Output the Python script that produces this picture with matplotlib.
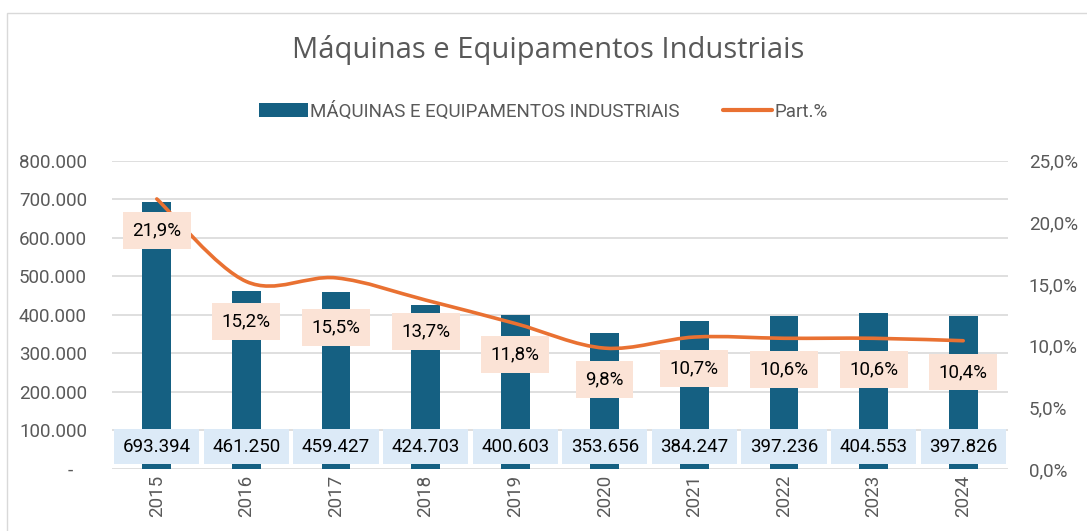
import matplotlib
matplotlib.use('Agg')
import matplotlib.pyplot as plt
from matplotlib.path import Path
from matplotlib.patches import PathPatch, Patch, Rectangle
from matplotlib.lines import Line2D
from matplotlib.ticker import FuncFormatter, MultipleLocator

years = ['2015', '2016', '2017', '2018', '2019', '2020', '2021', '2022', '2023', '2024']
values = [693394, 461250, 459427, 424703, 400603, 353656, 384247, 397236, 404553, 397826]
share = [21.9, 15.2, 15.5, 13.7, 11.8, 9.8, 10.7, 10.6, 10.6, 10.4]

BAR = '#156082'
LINE = '#E97132'
PEACH = '#FBE3D6'
LIGHTBLUE = '#DCEAF7'
GRAY = '#595959'
GRID = '#D9D9D9'
FS = 13.5

plt.rcParams['font.family'] = ['Roboto', 'DejaVu Sans']


def thousands(v, pos=None):
    if v == 0:
        return '-   '
    return f'{v:,.0f}'.replace(',', '.')


def percent(v, pos=None):
    return f'{v:.1f}%'.replace('.', ',')


def smooth_path(xs, ys):
    """ Excel-style smoothed line: cubic bezier through every point """
    pts = list(zip(xs, ys))
    verts = [pts[0]]
    codes = [Path.MOVETO]
    n = len(pts)
    for i in range(n - 1):
        p0 = pts[i - 1] if i > 0 else pts[i]
        p1 = pts[i]
        p2 = pts[i + 1]
        p3 = pts[i + 2] if i + 2 < n else pts[i + 1]
        c1 = (p1[0] + (p2[0] - p0[0]) / 6, p1[1] + (p2[1] - p0[1]) / 6)
        c2 = (p2[0] - (p3[0] - p1[0]) / 6, p2[1] - (p3[1] - p1[1]) / 6)
        verts += [c1, c2, p2]
        codes += [Path.CURVE4] * 3
    return Path(verts, codes)


fig = plt.figure(figsize=(10.87, 5.31), dpi=100)
ax = fig.add_axes([112 / 1087, 1 - 469 / 531, 896 / 1087, 308.3 / 531])
ax2 = ax.twinx()

x = list(range(len(years)))
ax.bar(x, values, width=0.32, color=BAR, zorder=2)
ax.set_xlim(-0.5, len(years) - 0.5)
ax.set_ylim(0, 800000)
ax.yaxis.set_major_locator(MultipleLocator(100000))
ax.yaxis.set_major_formatter(FuncFormatter(thousands))
ax.grid(axis='y', color=GRID, linewidth=1.2, zorder=0)
ax.set_axisbelow(True)
ax.set_xticks(x)
ax.set_xticklabels(years, rotation=90)
ax.tick_params(axis='y', length=0, pad=18, labelsize=FS, labelcolor=GRAY)
ax.tick_params(axis='x', length=0, pad=4, labelsize=FS, labelcolor=GRAY)
for s in ax.spines.values():
    s.set_visible(False)

# value labels on the bars
for xi, v in zip(x, values):
    ax.text(xi, 57500, thousands(v), ha='center', va='center', fontsize=FS, color='black', zorder=5,
            bbox=dict(boxstyle='square,pad=0.45', facecolor=LIGHTBLUE, edgecolor='none'))

ax2.set_ylim(0, 25)
ax2.yaxis.set_major_locator(MultipleLocator(5))
ax2.yaxis.set_major_formatter(FuncFormatter(percent))
ax2.tick_params(axis='y', length=0, pad=15, labelsize=FS, labelcolor=GRAY)
for s in ax2.spines.values():
    s.set_visible(False)

ax2.add_patch(PathPatch(smooth_path(x, share), fill=False, edgecolor=LINE, linewidth=2.6,
                        capstyle='round', joinstyle='round', zorder=3))

# label offsets below the line, in points (Excel nudged 2016/2017 down)
offsets = {1: -29, 2: -36}
for xi, p in zip(x, share):
    ax2.annotate(percent(p), (xi, p), xytext=(0, offsets.get(xi, -22.5)), textcoords='offset points',
                 ha='center', va='center', fontsize=FS, color='black', zorder=6,
                 bbox=dict(boxstyle='square,pad=0.5', facecolor=PEACH, edgecolor='none'))

fig.text(0.504, 1 - 50 / 531, 'Máquinas e Equipamentos Industriais', ha='center', va='center',
         fontsize=21, color=GRAY, family=['Open Sans', 'DejaVu Sans'])

handles = [Patch(facecolor=BAR, edgecolor='none'),
           Line2D([], [], color=LINE, linewidth=3, solid_capstyle='round')]
fig.legend(handles, ['MÁQUINAS E EQUIPAMENTOS INDUSTRIAIS', 'Part.%'], loc='center',
           bbox_to_anchor=(0.5, 1 - 111 / 531), ncol=2, frameon=False, fontsize=13.5,
           labelcolor=GRAY, handlelength=2.6, handleheight=0.8, handletextpad=0.15, columnspacing=2.3)

# thin chart border like the Excel chart area
fig.patches.append(Rectangle((7 / 1087, -0.1), 1.2, 1 - 13 / 531 + 0.1, transform=fig.transFigure,
                             fill=False, edgecolor=GRID, linewidth=1))

fig.savefig('out.png', dpi=100)
